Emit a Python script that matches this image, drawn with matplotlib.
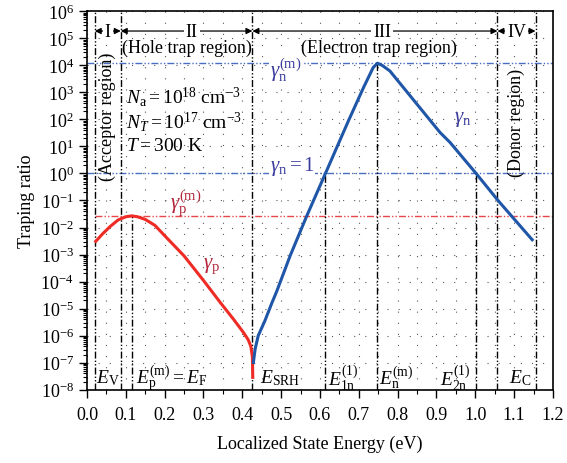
import math
import matplotlib
matplotlib.use("Agg")
import matplotlib.pyplot as plt
from matplotlib.ticker import LogLocator, FuncFormatter, MultipleLocator, NullFormatter

# 字型設定：Times 風格
plt.rcParams["font.family"] = ["Liberation Serif", "DejaVu Serif"]
plt.rcParams["mathtext.fontset"] = "custom"
plt.rcParams["mathtext.rm"] = "Liberation Serif"
plt.rcParams["mathtext.it"] = "Liberation Serif:italic"
plt.rcParams["axes.unicode_minus"] = False

# =========================
# 資料
# =========================
red_x = [0.02, 0.04, 0.06, 0.08, 0.10, 0.115, 0.13, 0.15, 0.175, 0.20,
         0.25, 0.30, 0.343, 0.377, 0.403, 0.415, 0.422, 0.426, 0.427]
red_y = [2.8e-3, 5.8e-3, 1.1e-2, 1.9e-2, 2.5e-2, 2.7e-2, 2.5e-2, 2.0e-2,
         1.2e-2, 5.0e-3, 8.9e-4, 1.1e-4, 1.7e-5, 4.1e-6, 1.3e-6, 7.1e-7,
         4.0e-7, 1.6e-7, 2.5e-8]

blue_x = [0.428, 0.433, 0.441, 0.458, 0.476, 0.489, 0.523, 0.566, 0.614,
          0.673, 0.712, 0.737, 0.748, 0.76, 0.78, 0.909, 0.935, 1.002, 1.059, 1.149]
blue_y = [8.9e-8, 3.2e-7, 1.0e-6, 3.5e-6, 1.6e-5, 4.5e-5, 8.9e-4, 2.7e-2,
          1.0, 8.7e1, 1.5e3, 8.3e3, 1.2e4, 1.0e4, 6.2e3, 3.3e1, 1.4e1, 1.0,
          9.8e-2, 3.2e-3]

gamma_p_max = 2.7e-2
gamma_n_max = 1.2e4

# 垂直分隔線
full_lines = [0.02, 0.087, 0.426, 1.057, 1.155]
part_lines = [(0.115, gamma_p_max), (0.614, 1.0), (0.748, gamma_n_max), (1.002, 1.0)]

x_ticks = [0.0, 0.1, 0.2, 0.3, 0.4, 0.5, 0.6, 0.7, 0.8, 0.9, 1.0, 1.1, 1.2]

red = "#ee2b24"
blue = "#1f56a8"
red_txt = "#b3263a"
blue_txt = "#3b3b9e"
dashdotdot = (0, (5, 1.5, 1, 1.5, 1, 1.5))

fig = plt.figure(figsize=(5.67, 4.64), dpi=100)
ax = fig.add_axes([0.1534, 0.158, 0.8219, 0.8155])
ax.set_yscale("log")
ax.set_xlim(0, 1.2)
ax.set_ylim(1e-8, 1e6)

# 格線（稀疏點狀）
ax.grid(True, which="major", axis="both", linestyle=(0, (1, 9)), color="0.35", lw=0.8)
ax.grid(True, which="minor", axis="x", linestyle=(0, (1, 9)), color="0.35", lw=0.8)

# 水平參考線
ax.axhline(gamma_n_max, color="#4a6fc2", lw=1, linestyle=dashdotdot)
ax.axhline(1.0, color="#4a6fc2", lw=1, linestyle=dashdotdot)
ax.plot([0.02, 1.2], [gamma_p_max, gamma_p_max], color="#e8474a", lw=1, linestyle=dashdotdot)

# 垂直分隔線
for xv in full_lines:
    ax.axvline(xv, color="black", lw=1, linestyle=dashdotdot)
for xv, yv in part_lines:
    ax.plot([xv, xv], [1e-8, yv], color="black", lw=1, linestyle=dashdotdot)

# 曲線
ax.plot(red_x, red_y, color=red, lw=2.2, solid_capstyle="butt")
ax.plot(blue_x, blue_y, color=blue, lw=2.2, solid_capstyle="butt")

# 區域標示箭頭
y_arr = 10 ** 5.27
arrow = dict(arrowstyle="<|-|>", lw=0.9, color="black", mutation_scale=9, shrinkA=0, shrinkB=0)
for x0, x1, lab, xm in [(0.02, 0.087, "I", 0.0535), (0.087, 0.426, "II", 0.27),
                        (0.426, 1.057, "III", 0.76), (1.057, 1.155, "IV", 1.106)]:
    ax.annotate("", xy=(x0, y_arr), xytext=(x1, y_arr), arrowprops=arrow)
    ax.text(xm, y_arr, lab, ha="center", va="center", fontsize=13,
            bbox=dict(facecolor="white", edgecolor="none", pad=1.5))

ax.text(0.257, 10 ** 4.68, "(Hole trap region)", ha="center", va="center", fontsize=13)
ax.text(0.752, 10 ** 4.68, "(Electron trap region)", ha="center", va="center", fontsize=13)
ax.text(0.052, 10 ** 2.15, "(Acceptor region)", ha="center", va="center", fontsize=13, rotation=90)
ax.text(1.105, 10 ** 1.9, "(Donor region)", ha="center", va="center", fontsize=13, rotation=90)

# 參數
ax.text(0.10, 10 ** 2.87, r"$N_{\rm a} = 10^{18}\ {\rm cm^{-3}}$", ha="left", va="center", fontsize=14)
ax.text(0.10, 10 ** 1.94, r"$N_T = 10^{17}\ {\rm cm^{-3}}$", ha="left", va="center", fontsize=14)
ax.text(0.10, 10 ** 1.02, r"$T = 300\ {\rm K}$", ha="left", va="center", fontsize=14)

# 曲線標籤
ax.text(0.47, 10 ** 3.85, r"$\gamma_{\rm n}^{\rm (m)}$", color=blue_txt, fontsize=15, ha="left", va="center",
        bbox=dict(facecolor="white", edgecolor="none", pad=0.5))
ax.text(0.47, 10 ** 0.3, r"$\gamma_{\rm n} = 1$", color=blue_txt, fontsize=15, ha="left", va="center",
        bbox=dict(facecolor="white", edgecolor="none", pad=0.5))
ax.text(0.945, 10 ** 2.05, r"$\gamma_{\rm n}$", color=blue_txt, fontsize=15, ha="left", va="center")
ax.text(0.215, 10 ** -1.1, r"$\gamma_{\rm p}^{\rm (m)}$", color=red_txt, fontsize=15, ha="left", va="center")
ax.text(0.30, 10 ** -3.4, r"$\gamma_{\rm p}$", color=red_txt, fontsize=15, ha="left", va="center")

# 能階標籤
y_lab = 10 ** -7.55
for xv, s in [(0.022, r"$E_{\rm V}$"), (0.125, r"$E_{\rm p}^{\rm (m)} = E_{\rm F}$"),
              (0.445, r"$E_{\rm SRH}$"), (0.62, r"$E_{\rm 1n}^{(1)}$"),
              (0.752, r"$E_{\rm n}^{\rm (m)}$"), (0.91, r"$E_{\rm 2n}^{(1)}$"),
              (1.087, r"$E_{\rm C}$")]:
    ax.text(xv, y_lab, s, ha="left", va="center", fontsize=14)

# 座標軸
ax.xaxis.set_minor_locator(MultipleLocator(0.05))
ax.set_xticks(x_ticks)
ax.set_xticklabels(["%.1f" % v for v in x_ticks])
ax.yaxis.set_major_locator(LogLocator(base=10, numticks=20))
ax.yaxis.set_minor_locator(LogLocator(base=10, subs=range(2, 10), numticks=20))
ax.yaxis.set_minor_formatter(NullFormatter())
ax.yaxis.set_major_formatter(FuncFormatter(lambda v, p: r"$10^{%d}$" % round(math.log10(v))))
ax.tick_params(axis="both", which="major", direction="out", length=6, width=1, labelsize=13)
ax.tick_params(axis="both", which="minor", direction="out", length=3, width=0.8)
ax.tick_params(axis="x", which="major", pad=6)
for sp in ax.spines.values():
    sp.set_linewidth(1.2)

ax.set_xlabel("Localized State Energy (eV)", fontsize=13, labelpad=8)
ax.set_ylabel("Traping ratio", fontsize=13, labelpad=4)

plt.savefig("out.png", dpi=100)
plt.close()
